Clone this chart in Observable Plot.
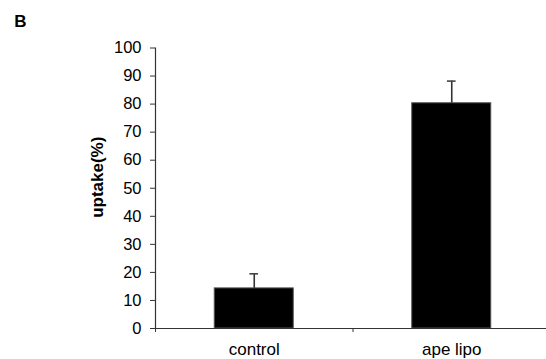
<!DOCTYPE html>
<html>
<head>
<meta charset="utf-8">
<script src="https://cdn.jsdelivr.net/npm/d3@7"></script>
<script src="https://cdn.jsdelivr.net/npm/@observablehq/plot@0.6"></script>
<style>
  html, body { margin: 0; padding: 0; background: #fff; }
</style>
</head>
<body>
<div id="chart"></div>
<script>
const categories = ["control", "ape lipo"];
const values = [14.3, 80.3];
const errors = [5.2, 7.9];
const yTicks = [0, 10, 20, 30, 40, 50, 60, 70, 80, 90, 100];
const boundaryTicks = [-0.5, 0.5, 1.5];
const panelLabel = "B";
const yLabel = "uptake(%)";

const data = categories.map((c, i) => ({i, category: c, value: values[i], err: errors[i]}));
const half = 0.2;   // half bar width in slot units
const cap = 0.022;  // half cap width

const chart = Plot.plot({
  width: 546,
  height: 359,
  marginLeft: 155,
  marginRight: 0,
  marginTop: 47.5,
  marginBottom: 31,
  style: {fontFamily: "'Liberation Sans', Arial, sans-serif", fontSize: "16px", color: "#000", background: "#fff"},
  x: {domain: [-0.5, 1.5], range: [155, 550], axis: null},
  y: {domain: [0, 100], axis: null},
  marks: [
    Plot.rectY(data, {x1: d => d.i - half, x2: d => d.i + half, y: "value", fill: "#000", stroke: "#555", strokeWidth: 1}),
    Plot.ruleX(data, {x: "i", y1: "value", y2: d => d.value + d.err, stroke: "#333", strokeWidth: 1.6}),
    Plot.ruleY(data, {y: d => d.value + d.err, x1: d => d.i - cap, x2: d => d.i + cap, stroke: "#444", strokeWidth: 1.6}),
    Plot.ruleY([0], {stroke: "#333", strokeWidth: 1.2}),
    Plot.ruleX([-0.5], {y1: 0, y2: 100, stroke: "#333", strokeWidth: 1.2}),
    Plot.axisY({ticks: yTicks, tickSize: 5, tickPadding: 9, label: null, fontSize: 16.5, stroke: "#333"}),
    Plot.axisX({ticks: boundaryTicks, tickSize: 4, tickFormat: () => "", label: null, stroke: "#333"}),
    Plot.axisX({ticks: [0, 1], tickSize: 0, tickPadding: 14, tickFormat: i => categories[i], label: null, fontSize: 17}),
    Plot.text([yLabel], {frameAnchor: "left", rotate: -90, dx: -58, dy: -11, textAnchor: "middle", lineAnchor: "middle", fontWeight: "bold", fontSize: 17, fill: "#000"}),
    Plot.text([panelLabel], {frameAnchor: "top-left", dx: -135, dy: -26.5, textAnchor: "middle", lineAnchor: "middle", fontWeight: "bold", fontSize: 17, fill: "#000"})
  ]
});
document.getElementById("chart").appendChild(chart);
</script>
</body>
</html>
